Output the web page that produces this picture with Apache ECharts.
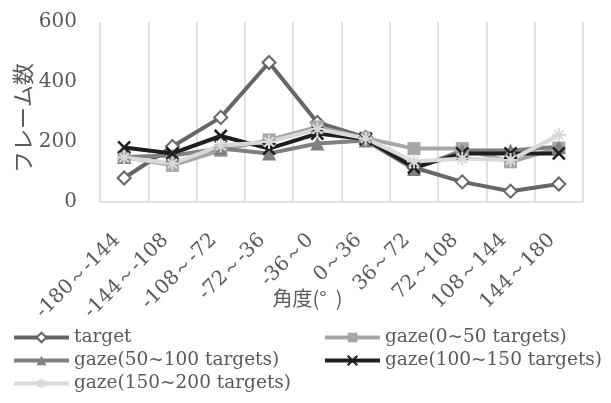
<!DOCTYPE html>
<html>
<head>
<meta charset="utf-8">
<script src="https://cdn.jsdelivr.net/npm/echarts@6/dist/echarts.min.js"></script>
<style>
  html, body { margin: 0; padding: 0; background: #fff; }
  #chart { width: 611px; height: 403px; }
</style>
</head>
<body>
<div id="chart"></div>
<script>
// Angle bins (degrees)
var categories = ['-180～-144', '-144～-108', '-108～-72', '-72～-36', '-36～0',
                  '0～36', '36～72', '72～108', '108～144', '144～180'];
var yTicks = [0, 200, 400, 600];

// Frame counts per angle bin
var target      = [80, 185, 282, 465, 265, 215, 115, 67, 36, 60];
var gaze0_50    = [150, 122, 172, 207, 250, 213, 178, 178, 134, 180];
var gaze50_100  = [150, 155, 178, 162, 195, 205, 110, 172, 172, 184];
var gaze100_150 = [182, 162, 220, 178, 228, 210, 115, 162, 162, 162];
var gaze150_200 = [148, 128, 188, 200, 243, 212, 135, 145, 140, 223];

var seriesNames = ['target', 'gaze(0~50 targets)', 'gaze(50~100 targets)',
                   'gaze(100~150 targets)', 'gaze(150~200 targets)'];

var SERIF = 'DejaVu Serif';
var CJK = 'Noto Sans CJK JP';
var TEXT = '#595959';
var GRID = '#d9d9d9';

var X_MARK = 'path://M0,0L10,10M10,0L0,10';
var STAR_MARK = 'path://M5,0L5,10M0,5L10,5M1.6,1.6L8.4,8.4M8.4,1.6L1.6,8.4';

function lineSeries(name, data, color, symbol, size, itemStyle) {
  return {
    name: name,
    type: 'line',
    data: data,
    symbol: symbol,
    symbolSize: size,
    showAllSymbol: true,
    lineStyle: { color: color, width: 4 },
    itemStyle: itemStyle,
    emphasis: { disabled: true },
    animation: false
  };
}

function legendAt(name, left, top) {
  return {
    data: [name],
    left: left,
    top: top,
    orient: 'horizontal',
    padding: 0,
    itemWidth: 55,
    itemHeight: 12,
    itemGap: 0,
    selectedMode: false,
    lineStyle: { width: 4 },
    textStyle: { fontFamily: SERIF, fontSize: 18.5, color: TEXT }
  };
}

var chart = echarts.init(document.getElementById('chart'), null, { renderer: 'canvas' });

chart.setOption({
  backgroundColor: '#ffffff',
  animation: false,
  textStyle: { fontFamily: SERIF },
  grid: { left: 100, right: 28, top: 22, bottom: 201, containLabel: false },
  legend: [
    legendAt(seriesNames[0], 12, 328),
    legendAt(seriesNames[1], 323, 328),
    legendAt(seriesNames[2], 12, 351),
    legendAt(seriesNames[3], 323, 351),
    legendAt(seriesNames[4], 12, 374)
  ],
  xAxis: {
    type: 'category',
    data: categories,
    boundaryGap: true,
    name: '角度(°  )',
    nameLocation: 'middle',
    nameGap: 86,
    nameMoveOverlap: false,
    nameTextStyle: { fontFamily: CJK, fontSize: 20, color: TEXT, padding: [0, 68, 0, 0] },
    axisLine: { show: true, lineStyle: { color: GRID, width: 1.5 } },
    axisTick: { show: false },
    splitLine: { show: true, lineStyle: { color: GRID, width: 1.5 } },
    axisLabel: {
      interval: 0,
      rotate: 45,
      margin: 28,
      padding: [0, 10, 0, 0],
      fontFamily: SERIF,
      fontSize: 20,
      color: TEXT
    }
  },
  yAxis: {
    type: 'value',
    min: yTicks[0],
    max: yTicks[yTicks.length - 1],
    interval: yTicks[1] - yTicks[0],
    name: 'フレーム数',
    nameLocation: 'middle',
    nameGap: 66,
    nameMoveOverlap: false,
    nameRotate: 90,
    nameTextStyle: { fontFamily: CJK, fontSize: 22, color: TEXT, padding: [0, 12, 0, 0] },
    axisLine: { show: false },
    axisTick: { show: false },
    splitLine: { show: false },
    axisLabel: { margin: 23, fontFamily: SERIF, fontSize: 20, color: TEXT }
  },
  series: [
    lineSeries(seriesNames[0], target, '#666666', 'diamond', 13,
      { color: '#ffffff', borderColor: '#666666', borderWidth: 2 }),
    lineSeries(seriesNames[1], gaze0_50, '#a6a6a6', 'rect', 13,
      { color: '#a6a6a6' }),
    lineSeries(seriesNames[2], gaze50_100, '#808080', 'triangle', 14,
      { color: '#808080' }),
    lineSeries(seriesNames[3], gaze100_150, '#1e1e1e', X_MARK, 12,
      { color: '#1e1e1e', borderColor: '#1e1e1e', borderWidth: 2.5 }),
    lineSeries(seriesNames[4], gaze150_200, '#d9d9d9', STAR_MARK, 14,
      { color: '#d9d9d9', borderColor: '#d9d9d9', borderWidth: 2 })
  ]
});
</script>
</body>
</html>
